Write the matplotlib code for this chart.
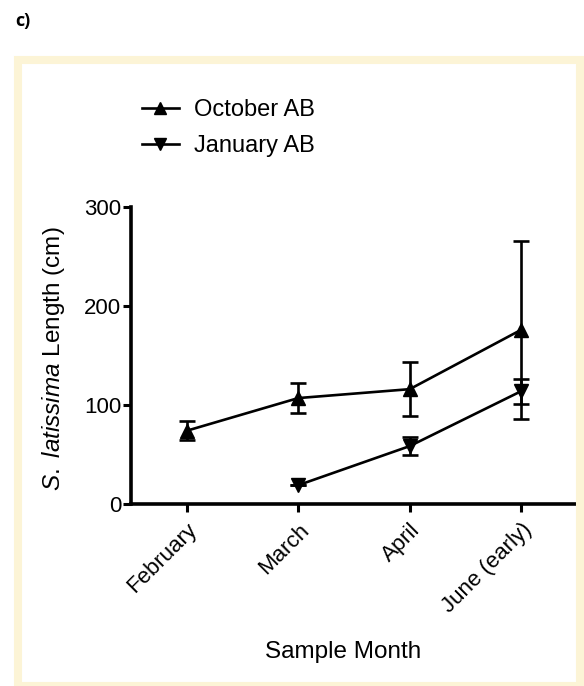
import matplotlib.pyplot as plt
from matplotlib.lines import Line2D
from matplotlib.patches import Rectangle

# data
months = ['February', 'March', 'April', 'June (early)']
oct_x = [0, 1, 2, 3]
oct_mean = [74, 107, 116, 176]
oct_err = [9.5, 15, 27.5, 90]
jan_x = [1, 2, 3]
jan_mean = [19, 58.5, 114]
jan_err = [0, 9, 12.5]

plt.rcParams['font.family'] = ['Liberation Sans', 'DejaVu Sans']
plt.rcParams['mathtext.fontset'] = 'custom'
plt.rcParams['mathtext.it'] = 'Liberation Sans:italic'
plt.rcParams['mathtext.rm'] = 'Liberation Sans'

W, H = 584, 686
fig = plt.figure(figsize=(W / 100, H / 100), dpi=100)

# yellow frame
fig.patches.append(Rectangle((18 / W, 1 - 686 / H), 562 / W, 626.5 / H,
                             transform=fig.transFigure, fill=False,
                             edgecolor='#FCF4D6', linewidth=5.8, zorder=0))
fig.text(15 / W, 1 - 21 / H, 'c)', fontsize=13, fontweight='bold',
         family=['Open Sans', 'DejaVu Sans'], va='center', ha='left')

ax = fig.add_axes([131 / W, 1 - 504 / H, (577 - 131) / W, (504 - 207) / H])

lw = 1.9
ax.errorbar(oct_x, oct_mean, yerr=oct_err, color='black', marker='^',
            markersize=10, linewidth=lw, elinewidth=lw, capsize=6, capthick=lw,
            clip_on=False)
ax.errorbar(jan_x, jan_mean, yerr=jan_err, color='black', marker='v',
            markersize=10, linewidth=lw, elinewidth=lw, capsize=6, capthick=lw,
            clip_on=False)

ax.set_xlim(-0.5, 3.5)
ax.set_ylim(0, 300)
ax.set_yticks([0, 100, 200, 300])
ax.set_xticks(oct_x)
ax.set_xticklabels(months, rotation=45, ha='right', rotation_mode='anchor')
ax.tick_params(axis='both', direction='out', length=6, width=2.2,
               labelsize=16)
ax.tick_params(axis='y', pad=1)
ax.tick_params(axis='x', pad=5)
for s in ['top', 'right']:
    ax.spines[s].set_visible(False)
for s in ['left', 'bottom']:
    ax.spines[s].set_linewidth(2.6)

ax.set_ylabel(r'$\mathit{S.}$ $\mathit{latissima}$ Length (cm)', fontsize=17.5)
ax.yaxis.set_label_coords((67 - 131) / 446, 0.49)
ax.set_xlabel('Sample Month', fontsize=17.5, va='top')
ax.xaxis.set_label_coords((343.5 - 131) / 446, (504 - 641) / 297)

handles = [Line2D([], [], color='black', marker='^', markersize=8, linewidth=lw),
           Line2D([], [], color='black', marker='v', markersize=8, linewidth=lw)]
fig.legend(handles, ['October AB', 'January AB'], loc='upper left',
           bbox_to_anchor=(142 / W, 1 - 99 / H), frameon=False, fontsize=17,
           handlelength=1.55, handletextpad=0.65, labelspacing=0.6,
           borderpad=0, borderaxespad=0)

fig.savefig('out.png', dpi=100)
